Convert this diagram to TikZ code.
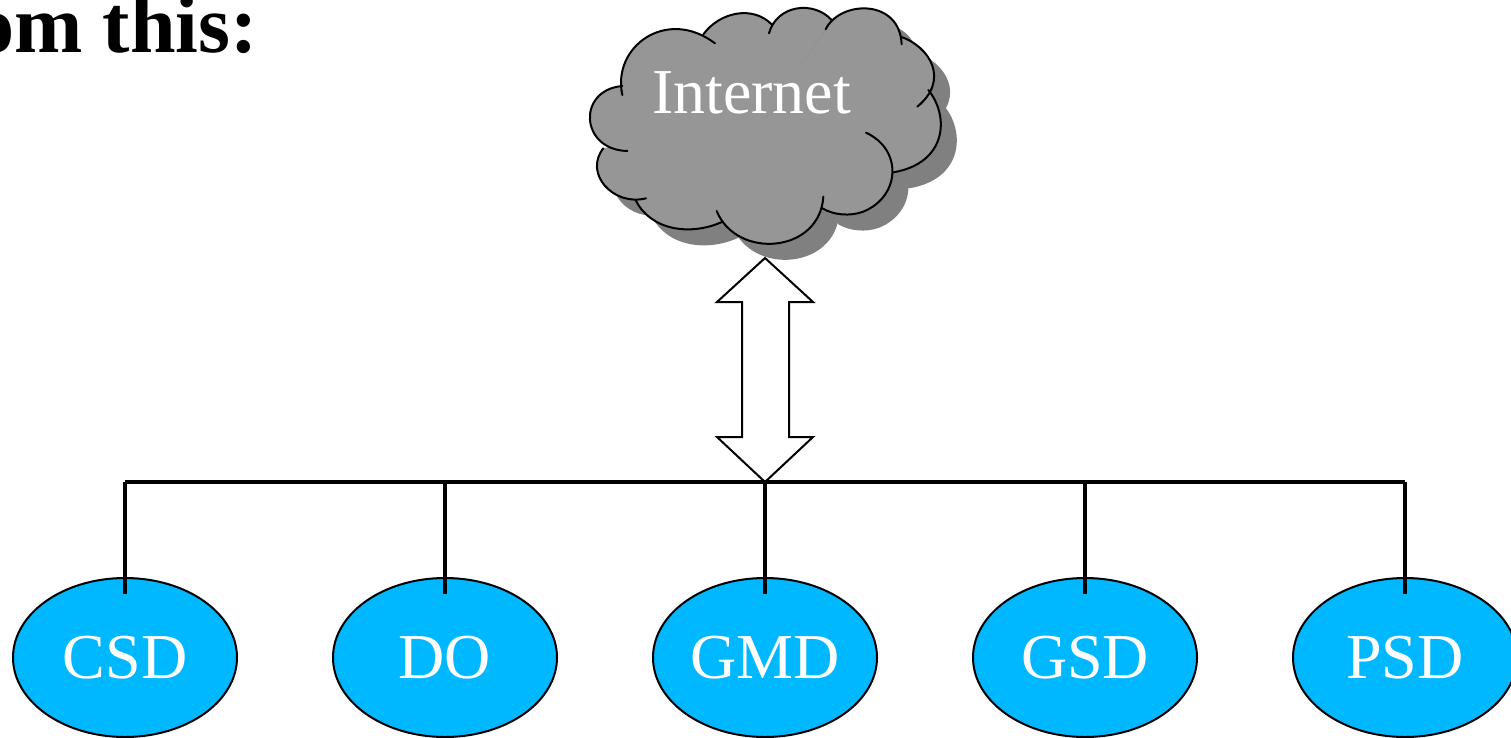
\documentclass[tikz,border=0pt]{standalone}
\usepackage{fontspec}
\setmainfont{Liberation Serif}
\usetikzlibrary{shapes.geometric,calc}
\definecolor{unitblue}{RGB}{0,184,255}
\definecolor{cloudgrey}{RGB}{150,150,150}
\definecolor{shadowgrey}{RGB}{128,128,128}
\tikzset{
  unit/.style={ellipse,draw=black,line width=2pt,fill=unitblue,text=white,inner sep=0pt,
    minimum width=224pt,minimum height=159pt,font=\fontsize{64}{64}\selectfont},
  wire/.style={line width=4.5pt,line cap=butt},
  cloudline/.style={line width=2pt,line cap=round},
  bigarrow/.style={draw=black,fill=white,line width=2pt,line join=miter},
  cloudlabel/.style={text=white,font=\fontsize{64}{64}\selectfont,inner sep=0pt},
  heading/.style={font=\bfseries\fontsize{82}{82}\selectfont,inner sep=0pt}
}
\newcommand{\lobeA}{(157,285) .. controls (125,140) and (290,20) .. (435,130)}
\newcommand{\lobeB}{(400,103) .. controls (450,35) and (550,15) .. (607,75)}
\newcommand{\lobeC}{(597,100) .. controls (620,15) and (730,0) .. (785,60)}
\newcommand{\lobeD}{(767,88) .. controls (810,0) and (990,-5) .. (995,133)}
\newcommand{\lobeE}{(992,110) .. controls (1080,140) and (1140,240) .. (1042,320)}
\newcommand{\lobeF}{(1075,270) .. controls (1140,350) and (1130,490) .. (970,517)}
\newcommand{\lobeG}{(888,398) .. controls (1000,450) and (990,590) .. (880,635) .. controls (840,650) and (790,645) .. (757,625)}
\newcommand{\lobeH}{(760,590) .. controls (750,760) and (500,780) .. (440,633)}
\newcommand{\lobeI}{(458,665) .. controls (360,710) and (240,690) .. (197,600)}
\newcommand{\lobeJ}{(228,595) .. controls (130,620) and (40,520) .. (100,445)}
\newcommand{\lobeK}{(172,453) .. controls (30,450) and (20,270) .. (157,258)}
\newcommand{\cloudbody}[1]{%
  \foreach \lb in {\lobeA,\lobeB,\lobeC,\lobeD,\lobeE,\lobeF,\lobeG,\lobeH,\lobeI,\lobeJ,\lobeK}{
    \fill[#1] \lb -- (590,350) -- cycle;
  }}
\begin{document}
\begin{tikzpicture}[x=1pt,y=-1pt]
\useasboundingbox (0,0) rectangle (1511,737);
\clip (0,0) rectangle (1511,737);
% heading
\node[heading,anchor=base east] (head) at (258,52) {om this:};
% cloud
\begin{scope}[shift={(586,16)},x=0.3333pt,y=-0.3333pt]
  \cloudbody{shadowgrey}
\end{scope}
\begin{scope}[shift={(570,0)},x=0.3333pt,y=-0.3333pt]
  \cloudbody{cloudgrey}
  \foreach \lb in {\lobeA,\lobeB,\lobeC,\lobeD,\lobeE,\lobeF,\lobeG,\lobeH,\lobeI,\lobeJ,\lobeK}{
    \draw[cloudline] \lb;
  }
\end{scope}
\node[cloudlabel] (internet) at (751.5,93) {Internet};
% double arrow
\coordinate (arrowtop) at (765,258);
\coordinate (arrowbot) at (765,482);
\draw[bigarrow] (arrowtop) -- ++(48,44) -- ++(-24,0) -- ++(0,135) -- ++(24,0)
  -- (arrowbot) -- ++(-48,-45) -- ++(25,0) -- ++(0,-135) -- ++(-25,0) -- cycle;
% units
\node[unit] (csd) at (125,657.5) {\raisebox{-5pt}{CSD}};
\node[unit] (do) at (445,657.5) {\raisebox{-5pt}{DO}};
\node[unit] (gmd) at (765,657.5) {\raisebox{-5pt}{GMD}};
\node[unit] (gsd) at (1085,657.5) {\raisebox{-5pt}{GSD}};
\node[unit] (psd) at (1405,657.5) {\raisebox{-5pt}{PSD}};
% bus
\coordinate (buscsd) at (125,482);
\coordinate (busdo) at (445,482);
\coordinate (busgsd) at (1085,482);
\coordinate (buspsd) at (1405,482);
\draw[wire,line cap=square] (buscsd) -- (buspsd);
\foreach \b/\n in {buscsd/csd,busdo/do,arrowbot/gmd,busgsd/gsd,buspsd/psd}{
  \draw[wire] (\b) -- ($(\n.center)+(0,-64)$);
}
\end{tikzpicture}
\end{document}
